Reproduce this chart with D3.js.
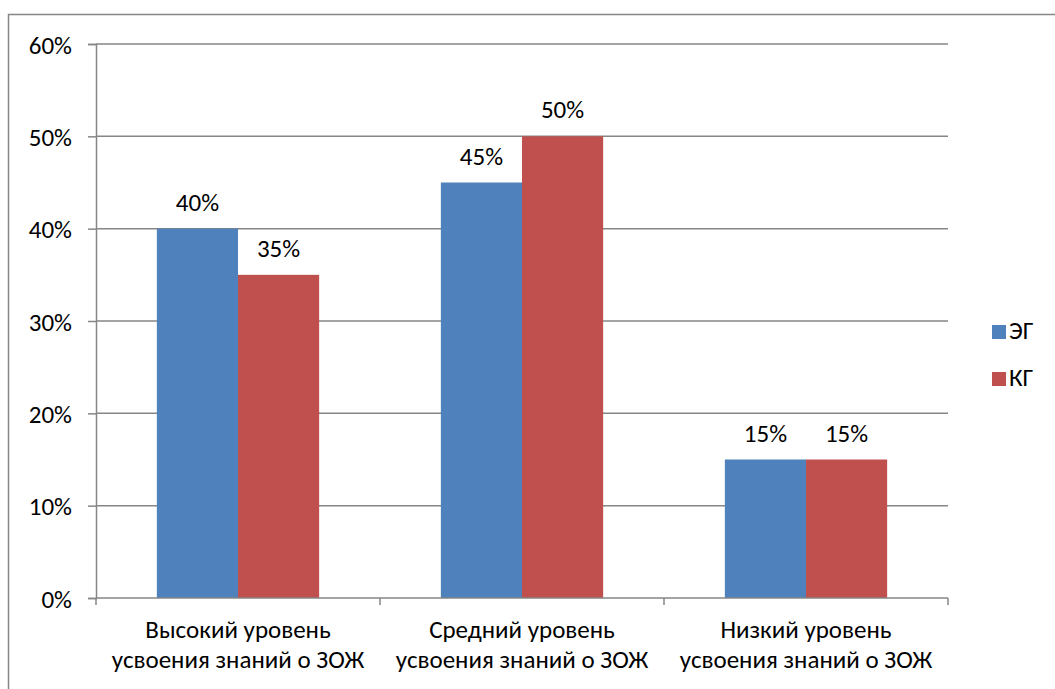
<!DOCTYPE html>
<html>
<head>
<meta charset="utf-8">
<script src="https://cdn.jsdelivr.net/npm/d3@7"></script>
<style>
  body { margin: 0; background: #fff; }
  text { font-family: Carlito, Lato, "Open Sans", sans-serif; fill: #000; }
</style>
</head>
<body>
<div id="chart"></div>
<script>
const categories = [
  ['Высокий уровень', 'усвоения знаний о ЗОЖ'],
  ['Средний уровень', 'усвоения знаний о ЗОЖ'],
  ['Низкий уровень', 'усвоения знаний о ЗОЖ']
]
const seriesNames = ['ЭГ', 'КГ']
const egValues = [0.40, 0.45, 0.15]
const kgValues = [0.35, 0.50, 0.15]
const yTicks = [0, 0.1, 0.2, 0.3, 0.4, 0.5, 0.6]
const colors = ['#4F81BD', '#C0504D']

const width = 1055, height = 689
const plot = { left: 96, right: 948, top: 44, bottom: 598 }
const fontSize = 25

const svg = d3.select('#chart').append('svg')
  .attr('width', width).attr('height', height)

// chart frame
svg.append('rect')
  .attr('x', 8.5).attr('y', 14.5)
  .attr('width', 1100).attr('height', 700)
  .attr('fill', 'none').attr('stroke', '#868686').attr('stroke-width', 1.5)

const x0 = d3.scaleBand()
  .domain(d3.range(categories.length))
  .range([plot.left, plot.right])

const bandW = x0.bandwidth()
const barW = bandW / 3.5  // Excel gap width 150%
const barX = (i, si) => x0(i) + (bandW - 2 * barW) / 2 + si * barW

const y = d3.scaleLinear().domain([0, 0.6]).range([plot.bottom, plot.top])

// gridlines
svg.append('g')
  .selectAll('line')
  .data(yTicks.filter(t => t > 0))
  .join('line')
  .attr('x1', plot.left).attr('x2', plot.right)
  .attr('y1', d => y(d)).attr('y2', d => y(d))
  .attr('stroke', '#868686').attr('stroke-width', 1.5)

// bars and labels
const series = [egValues, kgValues]
series.forEach((vals, si) => {
  svg.append('g')
    .selectAll('rect')
    .data(vals)
    .join('rect')
    .attr('x', (d, i) => barX(i, si))
    .attr('y', d => y(d))
    .attr('width', barW)
    .attr('height', d => plot.bottom - y(d))
    .attr('fill', colors[si])

  svg.append('g')
    .selectAll('text')
    .data(vals)
    .join('text')
    .attr('x', (d, i) => barX(i, si) + barW / 2)
    .attr('y', d => y(d) - 18)
    .attr('text-anchor', 'middle')
    .attr('font-size', fontSize)
    .text(d => d3.format('.0%')(d))
})

// y axis
const yAxis = d3.axisLeft(y)
  .tickValues(yTicks)
  .tickFormat(d3.format('.0%'))
  .tickSize(8)
const yg = svg.append('g').attr('transform', `translate(${plot.left},0)`).call(yAxis)
yg.select('.domain').attr('stroke', '#868686').attr('stroke-width', 1.5)
yg.selectAll('.tick line').attr('stroke', '#868686').attr('stroke-width', 1.5)
yg.selectAll('.tick text')
  .attr('font-size', fontSize).attr('font-family', null).attr('fill', '#000')
  .attr('x', -24).attr('dy', '0.36em')

// x axis
const xg = svg.append('g')
xg.append('line')
  .attr('x1', plot.left).attr('x2', plot.right)
  .attr('y1', plot.bottom).attr('y2', plot.bottom)
  .attr('stroke', '#868686').attr('stroke-width', 1.5)
xg.selectAll('line.tick')
  .data(d3.range(categories.length + 1))
  .join('line')
  .attr('class', 'tick')
  .attr('x1', i => i < categories.length ? x0(i) : plot.right)
  .attr('x2', i => i < categories.length ? x0(i) : plot.right)
  .attr('y1', plot.bottom).attr('y2', plot.bottom + 7)
  .attr('stroke', '#868686').attr('stroke-width', 1.5)

categories.forEach((lines, i) => {
  const t = xg.append('text')
    .attr('text-anchor', 'middle')
    .attr('font-size', fontSize)
  lines.forEach((ln, k) => {
    t.append('tspan')
      .attr('x', x0(i) + bandW / 2)
      .attr('y', 638 + k * 30)
      .text(ln)
  })
})

// legend
const legend = svg.append('g')
seriesNames.forEach((name, si) => {
  const ly = 325 + si * 47
  legend.append('rect')
    .attr('x', 992).attr('y', ly)
    .attr('width', 14).attr('height', 14)
    .attr('fill', colors[si])
  legend.append('text')
    .attr('x', 1009).attr('y', ly + 14)
    .attr('font-size', fontSize)
    .text(name)
})
</script>
</body>
</html>
